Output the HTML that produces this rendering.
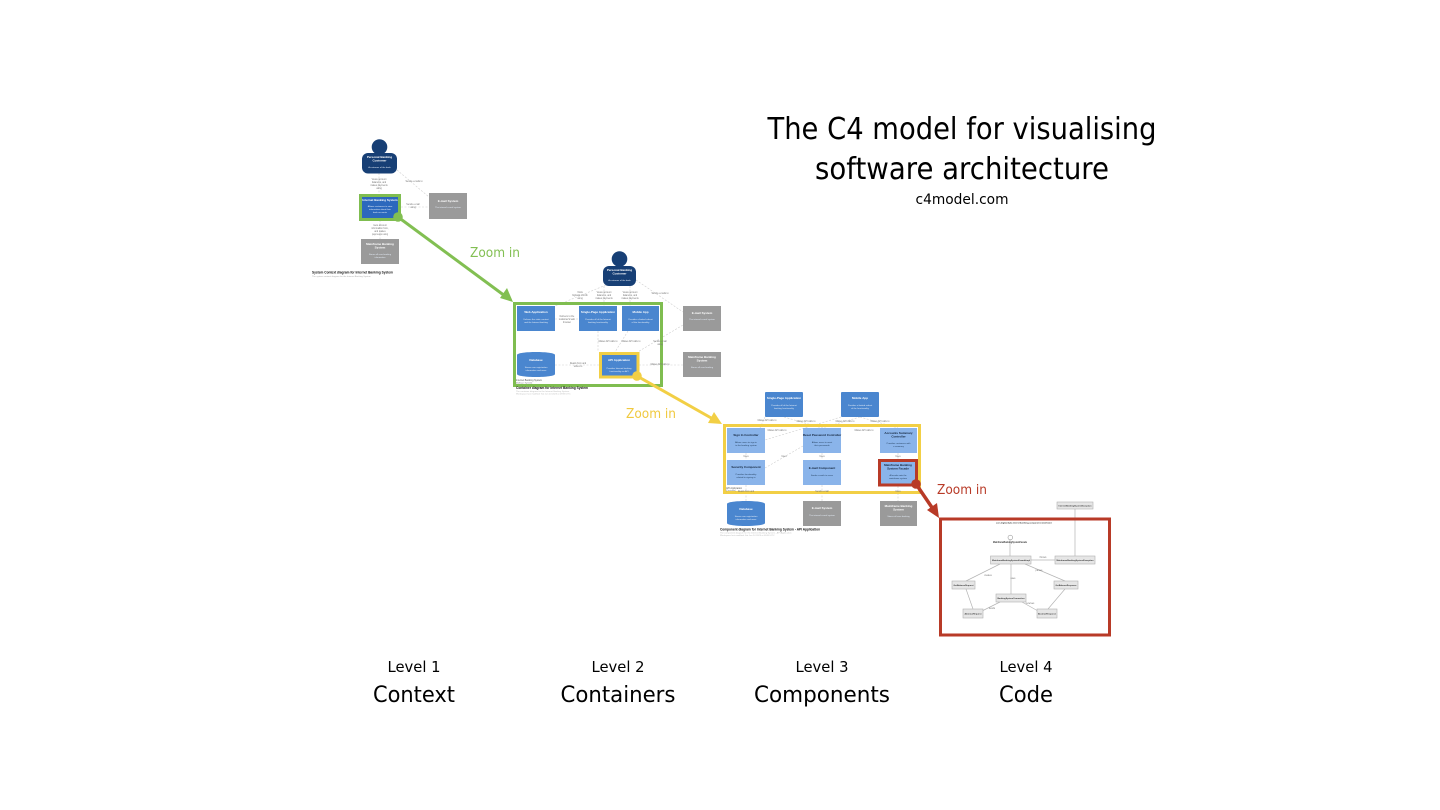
<!DOCTYPE html>
<html><head><meta charset="utf-8"><title>The C4 model for visualising software architecture</title>
<style>
html,body{margin:0;padding:0;background:#fff;width:1440px;height:810px;overflow:hidden}
svg{display:block}
text{font-family:"Liberation Sans","DejaVu Sans",sans-serif}
.big{font-family:"DejaVu Sans","Liberation Sans",sans-serif}
.bl{filter:blur(.35px)}
.t{font-size:3px;font-weight:bold;fill:#fff;text-anchor:middle}
.d{font-size:2.2px;fill:#e4ecf6;text-anchor:middle}
.k{font-size:3px;font-weight:bold;fill:#12233a;text-anchor:middle}
.kd{font-size:2.2px;fill:#24405f;text-anchor:middle}
.l{font-size:2.3px;fill:#777;text-anchor:middle}
.c{stroke:#cfcfcf;stroke-width:.6;stroke-dasharray:2 1.5;fill:none}
.s{stroke:#b5b5b5;stroke-width:.7;fill:none}
.g{fill:#e6e6e6;stroke:#b0b0b0;stroke-width:.6}
.m{font-size:2.1px;fill:#333;text-anchor:middle;font-weight:bold}
.lab{fill:#000;text-anchor:middle}
</style></head><body>
<svg width="1440" height="810" viewBox="0 0 1440 810" xmlns="http://www.w3.org/2000/svg">

<!-- Title -->
<text class="lab big" x="962" y="139" font-size="30" textLength="389" lengthAdjust="spacingAndGlyphs">The C4 model for visualising</text>
<text class="lab big" x="962" y="179" font-size="30" textLength="294" lengthAdjust="spacingAndGlyphs">software architecture</text>
<text class="lab big" x="962" y="204" font-size="14.500" textLength="93" lengthAdjust="spacingAndGlyphs">c4model.com</text>

<!-- Level 1 -->
<g class="bl">
<path class="c" d="M379 173V194M397 170L429 197M401 207H429M380 220V239"/>
<circle cx="379.500" cy="147" r="7.800" fill="#173f75"/>
<rect x="362" y="153" width="35" height="20.500" rx="6" fill="#173f75"/>
<text class="t" x="379.500" y="158">Personal Banking</text><text class="t" x="379.500" y="161.500">Customer</text>
<text class="d" x="379.500" y="168">A customer of the bank</text>
<rect x="360.500" y="195.500" width="39" height="24" fill="#2c68bd" stroke="#7fbd50" stroke-width="3"/>
<text class="t" x="380" y="201">Internet Banking System</text>
<text class="d" x="380" y="207">Allows customers to view</text><text class="d" x="380" y="210">information about their</text><text class="d" x="380" y="213">bank accounts</text>
<rect x="429" y="193" width="38" height="26" fill="#9a9a9a"/>
<text class="t" x="448" y="202">E-mail System</text><text class="d" x="448" y="208">The internal e-mail system</text>
<rect x="361" y="239" width="38" height="25" fill="#9a9a9a"/>
<text class="t" x="380" y="245">Mainframe Banking</text><text class="t" x="380" y="248.500">System</text>
<text class="d" x="380" y="255">Stores all core banking</text><text class="d" x="380" y="258">information</text>
<text class="l" x="379" y="180">Views account</text><text class="l" x="379" y="183">balances, and</text><text class="l" x="379" y="186">makes payments</text><text class="l" x="379" y="189">using</text>
<text class="l" x="414" y="182">Sends e-mails to</text>
<text class="l" x="413" y="205">Sends e-mail</text><text class="l" x="413" y="208">using</text>
<text class="l" x="380" y="226">Gets account</text><text class="l" x="380" y="229">information from,</text><text class="l" x="380" y="232">and makes</text><text class="l" x="380" y="235">payments using</text>
<text x="312" y="273.500" font-size="3.500" font-weight="bold" fill="#111" textLength="81" lengthAdjust="spacingAndGlyphs">System Context diagram for Internet Banking System</text>
<text x="312" y="277" font-size="2.200" fill="#aaa">The system context diagram for the Internet Banking System</text>
</g>

<!-- Level 2 -->
<g class="bl">
<path class="c" d="M606 285L555 306M604 286V306M630 286V306M636 280L683 312M555 319H579M598 331V352M628 331L615 352M636 353L683 325M555 365H599M639 365H683"/>
<circle cx="619.500" cy="259" r="7.800" fill="#173f75"/>
<rect x="603" y="266" width="33" height="20" rx="6" fill="#173f75"/>
<text class="t" x="619.500" y="271">Personal Banking</text><text class="t" x="619.500" y="274.500">Customer</text>
<text class="d" x="619.500" y="281">A customer of the bank</text>
<rect x="514.500" y="303.500" width="147" height="82" fill="none" stroke="#7fbd50" stroke-width="3"/>
<rect x="517" y="306" width="38" height="25" fill="#4a86cf"/>
<text class="t" x="536" y="313">Web Application</text><text class="d" x="536" y="320">Delivers the static content</text><text class="d" x="536" y="323">and the Internet banking</text>
<rect x="579" y="306" width="38" height="25" fill="#4a86cf"/>
<text class="t" x="598" y="313">Single-Page Application</text><text class="d" x="598" y="320">Provides all of the Internet</text><text class="d" x="598" y="323">banking functionality</text>
<rect x="622" y="306" width="37" height="25" fill="#4a86cf"/>
<text class="t" x="640.500" y="313">Mobile App</text><text class="d" x="640.500" y="320">Provides a limited subset</text><text class="d" x="640.500" y="323">of the functionality</text>
<rect x="683" y="306" width="38" height="25" fill="#9a9a9a"/>
<text class="t" x="702" y="314">E-mail System</text><text class="d" x="702" y="320">The internal e-mail system</text>
<rect x="683" y="352" width="38" height="25" fill="#9a9a9a"/>
<text class="t" x="702" y="358">Mainframe Banking</text><text class="t" x="702" y="361.500">System</text><text class="d" x="702" y="368">Stores all core banking</text>
<path d="M517 355C517 351 555 351 555 355V374C555 378 517 378 517 374Z" fill="#4a86cf"/>
<text class="t" x="536" y="361">Database</text><text class="d" x="536" y="368">Stores user registration</text><text class="d" x="536" y="371">information and more</text>
<rect x="600.500" y="353.500" width="37.500" height="23.500" fill="#4a86cf" stroke="#f2cf45" stroke-width="3"/>
<text class="t" x="619" y="361">API Application</text><text class="d" x="619" y="369">Provides Internet banking</text><text class="d" x="619" y="372">functionality via API</text>
<text class="l" x="580" y="293">Visits</text><text class="l" x="580" y="296">bigbank.com/ib</text><text class="l" x="580" y="299">using</text>
<text class="l" x="604" y="293">Views account</text><text class="l" x="604" y="296">balances, and</text><text class="l" x="604" y="299">makes payments</text>
<text class="l" x="630" y="293">Views account</text><text class="l" x="630" y="296">balances, and</text><text class="l" x="630" y="299">makes payments</text>
<text class="l" x="660" y="294">Sends e-mails to</text>
<text class="l" x="567" y="317">Delivers to the</text><text class="l" x="567" y="320">customer's web</text><text class="l" x="567" y="323">browser</text>
<text class="l" x="608" y="342">Makes API calls to</text><text class="l" x="631" y="342">Makes API calls to</text>
<text class="l" x="660" y="342">Sends e-mail</text><text class="l" x="660" y="345">using</text>
<text class="l" x="578" y="364">Reads from and</text><text class="l" x="578" y="367">writes to</text>
<text class="l" x="660" y="365">Makes API calls to</text>
<text x="516" y="381" font-size="2.400" fill="#555">Internet Banking System</text>
<text x="516" y="383.500" font-size="2" fill="#777">[Software System]</text>
<text x="516" y="389" font-size="3.500" font-weight="bold" fill="#111" textLength="72" lengthAdjust="spacingAndGlyphs">Container diagram for Internet Banking System</text>
<text x="516" y="392" font-size="2.200" fill="#bbb">The container diagram for the Internet Banking System</text>
<text x="516" y="394.500" font-size="2.200" fill="#bbb">Workspace last modified: Sat Jun 24 2023 at 09:38 UTC</text>
</g>

<!-- Level 3 -->
<g class="bl">
<path class="c" d="M765 417L760 428M784 417L822 428M841 417L765 440M860 417L822 428M860 417L898 428M746 453V460M822 453V460M898 453V460M803 446L765 468M746 485V501M822 485V501M898 486V501"/>
<rect x="724.500" y="425.500" width="195" height="67" fill="none" stroke="#f2cf45" stroke-width="3"/>
<rect x="765" y="392" width="38" height="25" rx="1" fill="#4a86cf"/>
<text class="t" x="784" y="399">Single-Page Application</text><text class="d" x="784" y="406">Provides all of the Internet</text><text class="d" x="784" y="409">banking functionality</text>
<rect x="841" y="392" width="38" height="25" rx="1" fill="#4a86cf"/>
<text class="t" x="860" y="399">Mobile App</text><text class="d" x="860" y="406">Provides a limited subset</text><text class="d" x="860" y="409">of the functionality</text>
<rect x="727" y="428" width="38" height="25" fill="#8ab4ea"/>
<text class="k" x="746" y="436">Sign In Controller</text><text class="kd" x="746" y="443">Allows users to sign in</text><text class="kd" x="746" y="446">to the banking system</text>
<rect x="803" y="428" width="38" height="25" fill="#8ab4ea"/>
<text class="k" x="822" y="436">Reset Password Controller</text><text class="kd" x="822" y="443">Allows users to reset</text><text class="kd" x="822" y="446">their passwords</text>
<rect x="880" y="428" width="37" height="25" fill="#8ab4ea"/>
<text class="k" x="898.500" y="434">Accounts Summary</text><text class="k" x="898.500" y="437.500">Controller</text><text class="kd" x="898.500" y="444">Provides customers with</text><text class="kd" x="898.500" y="447">a summary</text>
<rect x="727" y="460" width="38" height="25" fill="#8ab4ea"/>
<text class="k" x="746" y="468">Security Component</text><text class="kd" x="746" y="475">Provides functionality</text><text class="kd" x="746" y="478">related to signing in</text>
<rect x="803" y="460" width="38" height="25" fill="#8ab4ea"/>
<text class="k" x="822" y="469">E-mail Component</text><text class="kd" x="822" y="476">Sends e-mails to users</text>
<rect x="879.500" y="460.500" width="37" height="24.500" fill="#8ab4ea" stroke="#b83a27" stroke-width="3"/>
<text class="k" x="898" y="466">Mainframe Banking</text><text class="k" x="898" y="469.500">System Facade</text><text class="kd" x="898" y="476">A facade onto the</text><text class="kd" x="898" y="479">mainframe system</text>
<path d="M727 504C727 500 765 500 765 504V523C765 527 727 527 727 523Z" fill="#4a86cf"/>
<text class="t" x="746" y="510">Database</text><text class="d" x="746" y="517">Stores user registration</text><text class="d" x="746" y="520">information and more</text>
<rect x="803" y="501" width="38" height="25" fill="#9a9a9a"/>
<text class="t" x="822" y="509">E-mail System</text><text class="d" x="822" y="516">The internal e-mail system</text>
<rect x="880" y="501" width="37" height="25" fill="#9a9a9a"/>
<text class="t" x="898.500" y="507">Mainframe Banking</text><text class="t" x="898.500" y="510.500">System</text><text class="d" x="898.500" y="517">Stores all core banking</text>
<text class="l" x="767" y="421">Makes API calls to</text><text class="l" x="806" y="422">Makes API calls to</text><text class="l" x="845" y="422">Makes API calls to</text><text class="l" x="880" y="422">Makes API calls to</text>
<text class="l" x="777" y="431">Makes API calls to</text><text class="l" x="864" y="431">Makes API calls to</text>
<text class="l" x="746" y="457">Uses</text><text class="l" x="784" y="457">Uses</text><text class="l" x="822" y="457">Uses</text><text class="l" x="898" y="457">Uses</text>
<text class="l" x="746" y="492">Reads from and</text><text class="l" x="822" y="492">Sends e-mail</text><text class="l" x="898" y="492">Uses</text>
<text x="726" y="489" font-size="2.400" fill="#555">API Application</text><text x="726" y="491" font-size="2" fill="#777">[Container]</text>
<text x="720" y="530.500" font-size="3.500" font-weight="bold" fill="#111" textLength="100" lengthAdjust="spacingAndGlyphs">Component diagram for Internet Banking System - API Application</text>
<text x="720" y="533.500" font-size="2.200" fill="#bbb">The component diagram for the Internet Banking System - API Application</text>
<text x="720" y="536" font-size="2.200" fill="#bbb">Workspace last modified: Sat Jun 24 2023 at 09:38 UTC</text>
</g>

<!-- Level 4 -->
<g class="bl">
<path class="s" d="M1010 540V556M1075 509V556M1031 560H1055M1000 564L966 581M1025 564L1065 581M1011 564V594M966 589L973 609M1065 589L1048 609M1000 602L982 611M1022 602L1038 611"/>
<circle cx="1010.300" cy="537.500" r="2.300" fill="#fff" stroke="#999" stroke-width=".6"/>
<text class="m" x="1024" y="523.500" textLength="56" lengthAdjust="spacingAndGlyphs">com.bigbankplc.internetbanking.component.mainframe</text>
<text class="m" x="1010" y="543" textLength="34" lengthAdjust="spacingAndGlyphs" style="font-size:2.500px">MainframeBankingSystemFacade</text>
<rect class="g" x="1057" y="502" width="36" height="7"/><text class="m" x="1075" y="506.300" textLength="33" lengthAdjust="spacingAndGlyphs">InternetBankingSystemException</text>
<rect class="g" x="990.500" y="556" width="40.500" height="8"/><text class="m" x="1011" y="560.800" textLength="38" lengthAdjust="spacingAndGlyphs">MainframeBankingSystemFacadeImpl</text>
<rect class="g" x="1055" y="556" width="40" height="8"/><text class="m" x="1075" y="560.800" textLength="37" lengthAdjust="spacingAndGlyphs">MainframeBankingSystemException</text>
<rect class="g" x="952" y="581" width="23" height="8"/><text class="m" x="963.500" y="585.800" textLength="20" lengthAdjust="spacingAndGlyphs">GetBalanceRequest</text>
<rect class="g" x="1054" y="581" width="24" height="8"/><text class="m" x="1066" y="585.800" textLength="21" lengthAdjust="spacingAndGlyphs">GetBalanceResponse</text>
<rect class="g" x="996" y="594" width="30" height="8"/><text class="m" x="1011" y="598.800" textLength="27" lengthAdjust="spacingAndGlyphs">BankingSystemConnection</text>
<rect class="g" x="963" y="609" width="20" height="9"/><text class="m" x="973" y="614.300" textLength="17" lengthAdjust="spacingAndGlyphs">AbstractRequest</text>
<rect class="g" x="1037" y="609" width="20" height="9"/><text class="m" x="1047" y="614.300" textLength="18" lengthAdjust="spacingAndGlyphs">AbstractResponse</text>
<text class="l" x="1043" y="558">throws</text><text class="l" x="988" y="576">creates</text><text class="l" x="1013" y="579">uses</text><text class="l" x="1039" y="571">parses</text><text class="l" x="992" y="609">sends</text><text class="l" x="1030" y="604">receives</text>
</g>
<rect x="940.500" y="519" width="169" height="116" fill="none" stroke="#b83a27" stroke-width="3"/>

<!-- Connectors -->
<g fill="none" stroke-linecap="butt">
<line x1="398" y1="217" x2="505" y2="296" stroke="#82bf52" stroke-width="3"/>
<line x1="637" y1="376" x2="713" y2="419" stroke="#f2cf45" stroke-width="3"/>
<line x1="916" y1="484" x2="933" y2="509" stroke="#b83a27" stroke-width="3.500"/>
</g>
<circle cx="398" cy="217" r="4.800" fill="#82bf52"/>
<polygon points="513,302 500,298 507,288" fill="#82bf52"/>
<circle cx="637" cy="376" r="4.800" fill="#f2cf45"/>
<polygon points="722,424 708,423 714,412" fill="#f2cf45"/>
<circle cx="916" cy="484" r="4.800" fill="#b83a27"/>
<polygon points="939,518 927,510 937,503" fill="#b83a27"/>
<text class="big" x="470" y="257" font-size="13.500" fill="#82bf52" textLength="50" lengthAdjust="spacingAndGlyphs">Zoom in</text>
<text class="big" x="626" y="418" font-size="13.500" fill="#f0c93f" textLength="50" lengthAdjust="spacingAndGlyphs">Zoom in</text>
<text class="big" x="937" y="494" font-size="13.500" fill="#b83a27" textLength="50" lengthAdjust="spacingAndGlyphs">Zoom in</text>

<!-- Bottom labels -->
<text class="lab big" x="414" y="672" font-size="15.500" textLength="53" lengthAdjust="spacingAndGlyphs">Level 1</text>
<text class="lab big" x="414" y="702" font-size="22" textLength="82" lengthAdjust="spacingAndGlyphs">Context</text>
<text class="lab big" x="618" y="672" font-size="15.500" textLength="53" lengthAdjust="spacingAndGlyphs">Level 2</text>
<text class="lab big" x="618" y="702" font-size="22" textLength="115" lengthAdjust="spacingAndGlyphs">Containers</text>
<text class="lab big" x="822" y="672" font-size="15.500" textLength="53" lengthAdjust="spacingAndGlyphs">Level 3</text>
<text class="lab big" x="822" y="702" font-size="22" textLength="136" lengthAdjust="spacingAndGlyphs">Components</text>
<text class="lab big" x="1026" y="672" font-size="15.500" textLength="53" lengthAdjust="spacingAndGlyphs">Level 4</text>
<text class="lab big" x="1026" y="702" font-size="22" textLength="54" lengthAdjust="spacingAndGlyphs">Code</text>
</svg>
</body></html>
